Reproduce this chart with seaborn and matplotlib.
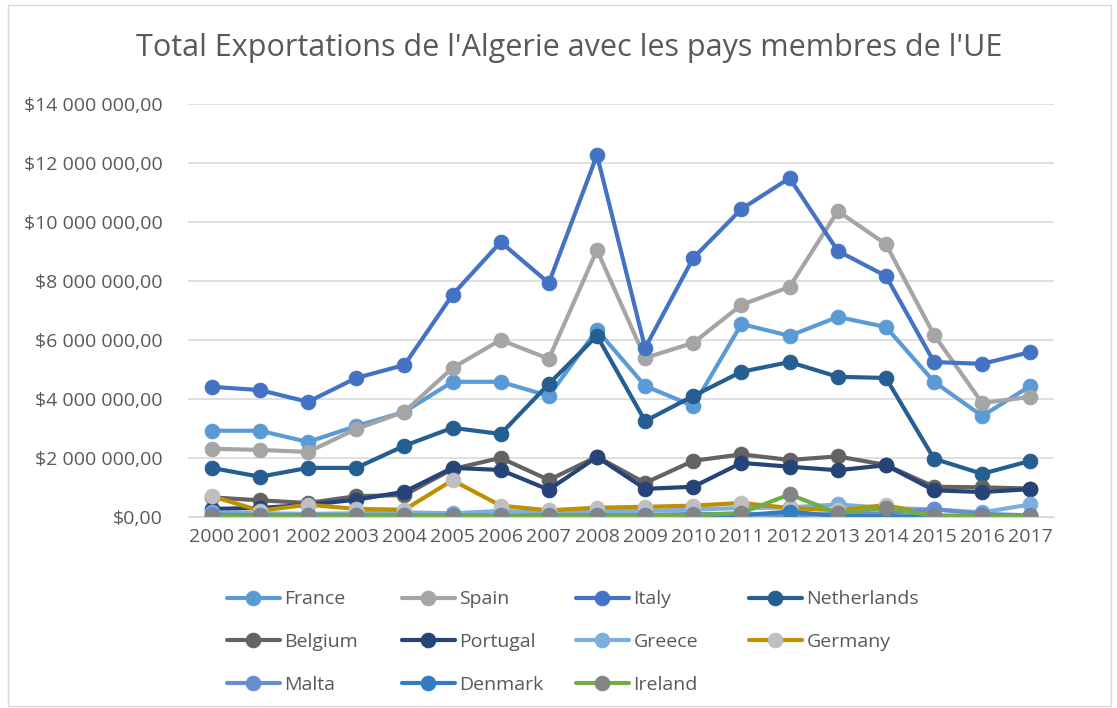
import pandas as pd
import matplotlib.pyplot as plt
import matplotlib.patches as mpatches
import seaborn as sns

years = [str(y) for y in range(2000, 2018)]

france = [2.92, 2.92, 2.54, 3.08, 3.56, 4.58, 4.58, 4.10, 6.34, 4.44, 3.76, 6.54, 6.14, 6.78, 6.44, 4.58, 3.42, 4.44]
spain = [2.31, 2.27, 2.20, 2.98, 3.56, 5.05, 6.00, 5.36, 9.05, 5.39, 5.90, 7.19, 7.80, 10.37, 9.25, 6.17, 3.86, 4.07]
italy = [4.41, 4.30, 3.90, 4.71, 5.15, 7.53, 9.32, 7.93, 12.27, 5.73, 8.78, 10.44, 11.49, 9.02, 8.17, 5.25, 5.19, 5.59]
netherlands = [1.66, 1.36, 1.66, 1.66, 2.41, 3.02, 2.81, 4.51, 6.14, 3.25, 4.10, 4.92, 5.25, 4.75, 4.71, 1.97, 1.46, 1.90]
belgium = [0.66, 0.56, 0.47, 0.70, 0.74, 1.62, 2.00, 1.25, 2.04, 1.15, 1.90, 2.12, 1.93, 2.05, 1.76, 1.02, 1.00, 0.96]
portugal = [0.27, 0.30, 0.41, 0.58, 0.85, 1.66, 1.59, 0.92, 2.03, 0.95, 1.02, 1.83, 1.70, 1.58, 1.75, 0.90, 0.84, 0.94]
greece = [0.15, 0.12, 0.10, 0.12, 0.15, 0.12, 0.20, 0.15, 0.20, 0.20, 0.25, 0.30, 0.32, 0.42, 0.30, 0.25, 0.15, 0.42]
germany = [0.70, 0.21, 0.41, 0.27, 0.24, 1.24, 0.38, 0.22, 0.31, 0.34, 0.38, 0.47, 0.30, 0.22, 0.40, 0.05, 0.03, 0.03]
malta = [0.08, 0.06, 0.06, 0.05, 0.05, 0.05, 0.05, 0.05, 0.06, 0.06, 0.10, 0.10, 0.05, 0.10, 0.12, 0.26, 0.10, 0.05]
denmark = [0.02, 0.02, 0.02, 0.02, 0.02, 0.02, 0.02, 0.02, 0.02, 0.02, 0.03, 0.05, 0.18, 0.02, 0.02, 0.02, 0.02, 0.02]
ireland = [0.02, 0.02, 0.02, 0.02, 0.02, 0.02, 0.02, 0.02, 0.02, 0.02, 0.05, 0.13, 0.76, 0.13, 0.30, 0.03, 0.02, 0.02]

countries = ['France', 'Spain', 'Italy', 'Netherlands', 'Belgium', 'Portugal',
             'Greece', 'Germany', 'Malta', 'Denmark', 'Ireland']
values = [france, spain, italy, netherlands, belgium, portugal,
          greece, germany, malta, denmark, ireland]

line_colors = ['#5B9BD5', '#A5A5A5', '#4472C4', '#255E91', '#636363', '#264478',
               '#7CAFDD', '#BF9000', '#698ED0', '#327DC2', '#70AD47']
marker_colors = ['#5B9BD5', '#A5A5A5', '#4472C4', '#255E91', '#636363', '#264478',
                 '#7CAFDD', '#BFBFBF', '#698ED0', '#327DC2', '#848484']

rows = []
for c, vals in zip(countries, values):
    for y, v in zip(years, vals):
        rows.append({'Year': y, 'Country': c, 'Value': v * 1e6})
df = pd.DataFrame(rows)

sns.set_style('white')
plt.rcParams['font.family'] = ['Open Sans', 'DejaVu Sans']
text_color = '#595959'

fig = plt.figure(figsize=(11.17, 7.08), dpi=100)
ax = fig.add_axes([0.168, 0.27, 0.776, 0.583])

handles = []
for c, lc, mc in zip(countries, line_colors, marker_colors):
    sub = df[df['Country'] == c]
    sns.lineplot(data=sub, x='Year', y='Value', ax=ax, color=lc, linewidth=3,
                 marker='o', markersize=10.5, markerfacecolor=mc, markeredgecolor=mc,
                 label=c, sort=False)
    handles.append(ax.lines[-1])
ax.get_legend().remove()

ax.set_ylim(0, 14e6)
ax.set_xlim(-0.5, len(years) - 0.5)
ax.set_yticks([i * 2e6 for i in range(8)])
ax.set_yticklabels(['$0,00'] + [f'${i * 2} 000 000,00' for i in range(1, 8)])
ax.grid(axis='y', color='#D9D9D9', linewidth=1.2)
ax.set_axisbelow(True)
for s in ['top', 'right', 'left']:
    ax.spines[s].set_visible(False)
ax.spines['bottom'].set_color('#D9D9D9')
ax.tick_params(axis='both', length=0, labelsize=14, labelcolor=text_color)
ax.tick_params(axis='y', pad=18)
ax.tick_params(axis='x', pad=8)
ax.set_xlabel('')
ax.set_ylabel('')

fig.text(0.51, 0.932, "Total Exportations de l'Algerie avec les pays membres de l'UE",
         fontsize=22, color=text_color, ha='center', va='center')

# legend: 4 columns with equal widths, filled row by row like Excel
col_x = [227, 402, 576, 749]
for j, x in enumerate(col_x):
    idx = list(range(j, len(countries), 4))
    leg = fig.legend(handles=[handles[i] for i in idx], labels=[countries[i] for i in idx],
                     loc='upper left', bbox_to_anchor=(x / 1117, 0.166), frameon=False,
                     fontsize=14, labelcolor=text_color, handlelength=2.7,
                     handletextpad=0.25, labelspacing=1.27, borderpad=0,
                     borderaxespad=0, numpoints=1)

fig.add_artist(mpatches.Rectangle((0.007, 0.003), 0.988, 0.99, transform=fig.transFigure,
                                  fill=False, edgecolor='#D9D9D9', linewidth=1))

fig.savefig('out.png', dpi=100)
